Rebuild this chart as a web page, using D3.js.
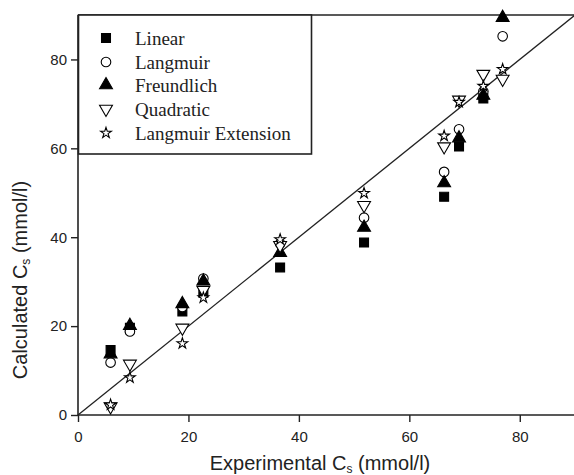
<!DOCTYPE html>
<html><head><meta charset="utf-8">
<script src="https://cdn.jsdelivr.net/npm/d3@7"></script>
<style>body{margin:0;background:#fff}svg{display:block}</style>
</head><body><svg id="c" width="574" height="475"></svg>
<script>
const experimental = [5.9, 9.4, 18.9, 22.7, 36.6, 51.8, 66.3, 69.0, 73.4, 76.9];
const linear      = [14.6, 19.6, 23.3, 27.5, 33.2, 38.8, 49.1, 60.4, 71.2, 92.0];
const langmuir    = [11.8, 18.8, 24.3, 30.7, 38.6, 44.4, 54.7, 64.3, 72.8, 85.2];
const freundlich  = [13.7, 20.1, 25.0, 30.1, 36.5, 42.2, 52.2, 62.3, 71.9, 89.4];
const quadratic   = [1.9, 11.5, 19.6, 28.1, 38.2, 47.2, 60.4, 70.9, 76.7, 75.6];
const extension   = [2.3, 8.4, 16.1, 26.4, 39.5, 49.9, 62.8, 70.4, 74.0, 77.8];
const seriesNames = ["Linear", "Langmuir", "Freundlich", "Quadratic", "Langmuir Extension"];
const xTicks = [0, 20, 40, 60, 80];
const yTicks = [0, 20, 40, 60, 80];

const svg = d3.select("#c");
const L = 78, R = 575, T = 15, B = 415;
const x = d3.scaleLinear().domain([0, 90]).range([L, R]);
const y = d3.scaleLinear().domain([0, 90]).range([B, T]);

svg.append("defs").append("clipPath").attr("id", "plotclip")
  .append("rect").attr("x", L).attr("y", T).attr("width", R - L).attr("height", B - T);

// frame
svg.append("line").attr("x1", L).attr("x2", R).attr("y1", T).attr("y2", T).attr("stroke", "#222").attr("stroke-width", 1.6);

const xa = svg.append("g").attr("transform", `translate(0,${B})`)
  .call(d3.axisBottom(x).tickValues(xTicks).tickSize(7).tickPadding(9).tickSizeOuter(0));
const ya = svg.append("g").attr("transform", `translate(${L},0)`)
  .call(d3.axisLeft(y).tickValues(yTicks).tickSize(7).tickPadding(4).tickSizeOuter(0));
[xa, ya].forEach(g => {
  g.select(".domain").attr("stroke", "#222").attr("stroke-width", 1.6);
  g.selectAll(".tick line").attr("stroke", "#222").attr("stroke-width", 1.4);
  g.selectAll("text").attr("font-family", "Liberation Sans, Arial, sans-serif").attr("font-size", 15).attr("fill", "#222");
});
xa.select(".domain").attr("d", `M${L},0H${R}`);
ya.select(".domain").attr("d", `M0,${B}V${T}`);

// diagonal y = x
svg.append("line").attr("x1", x(0)).attr("y1", y(0)).attr("x2", x(90)).attr("y2", y(90))
  .attr("stroke", "#222").attr("stroke-width", 1.3);

// symbols
const sym = {
  "Linear": {p: d3.symbol(d3.symbolSquare, 80)(), fill: "#000", rot: 0},
  "Langmuir": {p: d3.symbol(d3.symbolCircle, 72)(), fill: "#fff", rot: 0},
  "Freundlich": {p: d3.symbol(d3.symbolTriangle, 72)(), fill: "#000", rot: 0},
  "Quadratic": {p: d3.symbol(d3.symbolTriangle, 72)(), fill: "#fff", rot: 180},
  "Langmuir Extension": {p: d3.symbol(d3.symbolStar, 36)(), fill: "#fff", rot: 0}
};
const allSeries = [linear, langmuir, freundlich, quadratic, extension];

allSeries.forEach((vals, i) => {
  const s = sym[seriesNames[i]];
  const g = svg.append("g");
  if (i === 0) g.attr("clip-path", "url(#plotclip)");
  g.selectAll("path").data(vals).join("path")
    .attr("d", s.p)
    .attr("transform", (d, j) => `translate(${x(experimental[j])},${y(d)}) rotate(${s.rot})`)
    .attr("fill", s.fill).attr("stroke", "#000").attr("stroke-width", 1.1);
});

// legend
const lg = svg.append("g");
lg.append("rect").attr("x", 78.5).attr("y", 15).attr("width", 233).attr("height", 139)
  .attr("fill", "#fff").attr("stroke", "#222").attr("stroke-width", 1.6);
const rowY = [38, 62, 85, 109, 133];
seriesNames.forEach((n, i) => {
  const s = sym[n];
  lg.append("path").attr("d", s.p).attr("transform", `translate(106,${rowY[i]}) rotate(${s.rot})`)
    .attr("fill", s.fill).attr("stroke", "#000").attr("stroke-width", 1.1);
  lg.append("text").attr("x", 135).attr("y", rowY[i] + 6.5).text(n)
    .attr("font-family", "Liberation Serif, Times New Roman, serif").attr("font-size", 19).attr("fill", "#222");
});

// axis titles
const xt = svg.append("text").attr("x", 320).attr("y", 470).attr("text-anchor", "middle")
  .attr("font-family", "Liberation Sans, Arial, sans-serif").attr("font-size", 20).attr("fill", "#222");
xt.append("tspan").text("Experimental C");
xt.append("tspan").attr("font-size", 12).attr("dy", 3).text("s");
xt.append("tspan").attr("dy", -3).text(" (mmol/l)");

const yt = svg.append("text").attr("transform", "translate(27,280) rotate(-90)").attr("text-anchor", "middle")
  .attr("font-family", "Liberation Sans, Arial, sans-serif").attr("font-size", 20).attr("fill", "#222");
yt.append("tspan").text("Calculated C");
yt.append("tspan").attr("font-size", 12).attr("dy", 3).text("s");
yt.append("tspan").attr("dy", -3).text(" (mmol/l)");
</script></body></html>
